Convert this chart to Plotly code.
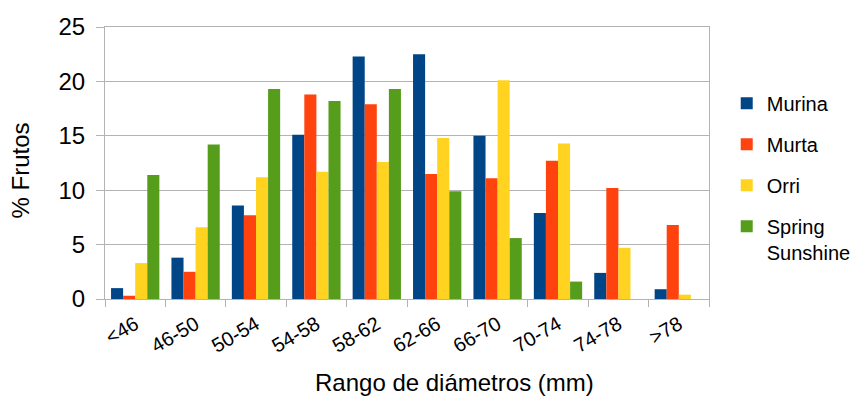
import plotly.graph_objects as go

# Diameter classes (mm)
rangos = ["<46", "46-50", "50-54", "54-58", "58-62", "62-66", "66-70", "70-74", "74-78", ">78"]

# Percentage of fruits per diameter class, one list per cultivar
murina = [1.0, 3.8, 8.6, 15.1, 22.3, 22.5, 15.0, 7.9, 2.4, 0.9]
murta = [0.3, 2.5, 7.7, 18.8, 17.9, 11.5, 11.1, 12.7, 10.2, 6.8]
orri = [3.3, 6.6, 11.2, 11.7, 12.6, 14.8, 20.1, 14.3, 4.7, 0.4]
spring = [11.4, 14.2, 19.3, 18.2, 19.3, 9.9, 5.6, 1.6, 0.0, 0.0]

series = [
    ("Murina", murina, "#004586"),
    ("Murta", murta, "#ff420e"),
    ("Orri", orri, "#ffd320"),
    ("Spring<br>Sunshine", spring, "#579d1c"),
]

FONT = "Liberation Sans, Arial, sans-serif"
GRID = "#b3b3b3"

fig = go.Figure()
for i, (name, vals, color) in enumerate(series):
    fig.add_trace(go.Bar(
        x=rangos, y=vals, name=name,
        marker=dict(color=color, line=dict(width=0)),
        legendgroup=f"g{i}",
    ))

fig.update_layout(
    width=858, height=396,
    margin=dict(l=105, r=149, t=27, b=97),
    paper_bgcolor="white", plot_bgcolor="white",
    barmode="group", bargap=0.2, bargroupgap=0,
    font=dict(family=FONT, color="black"),
    legend=dict(
        xref="container", yref="container",
        x=0.847, xanchor="left", y=0.551, yanchor="middle",
        font=dict(size=20, family=FONT),
        tracegroupgap=12, valign="top", borderwidth=0,
    ),
    xaxis=dict(
        type="category",
        tickangle=-30,
        tickfont=dict(size=20),
        ticks="outside", tickson="boundaries", ticklen=7, tickcolor=GRID,
        ticklabelstandoff=5,
        showline=True, linecolor=GRID, linewidth=1, mirror=True,
        showgrid=False,
    ),
    yaxis=dict(
        range=[0, 25], dtick=5,
        tickfont=dict(size=24),
        ticks="outside", ticklen=8, tickcolor=GRID,
        ticklabelstandoff=6,
        showline=True, linecolor=GRID, linewidth=1, mirror=True,
        showgrid=True, gridcolor=GRID, gridwidth=1,
        zeroline=False,
    ),
    annotations=[
        dict(text="Rango de diámetros (mm)", xref="paper", yref="paper",
             x=0.578, y=-0.255, xanchor="center", yanchor="top",
             showarrow=False, borderpad=0, font=dict(size=24)),
        dict(text="% Frutos", xref="paper", yref="paper",
             x=-0.14, y=0.474, xanchor="center", yanchor="middle",
             textangle=-90, showarrow=False, font=dict(size=24)),
    ],
)

fig.write_html("out.html")
